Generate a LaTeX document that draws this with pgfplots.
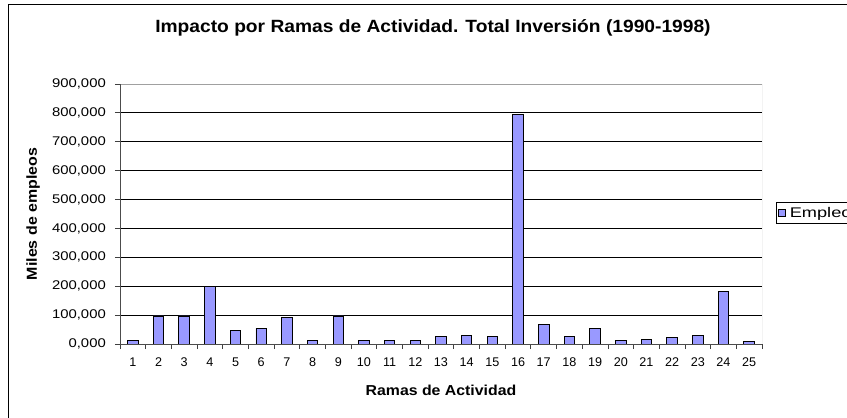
\documentclass[border=0pt]{standalone}
\usepackage{fontspec}
\setmainfont{Liberation Sans}
\newfontfamily\yfont{Liberation Sans}[FakeStretch=1.18]
\newfontfamily\titlefont{Liberation Sans}[FakeStretch=1.085]
\newfontfamily\labelfont{Liberation Sans}[FakeStretch=1.1]
\newfontfamily\legendfont{Liberation Sans}[FakeStretch=1.3]
\usepackage{pgfplots}
\pgfplotsset{compat=1.18}
\definecolor{barblue}{HTML}{9999FF}
\definecolor{axgray}{HTML}{A0A0A0}
\begin{document}
\begin{tikzpicture}[x=1pt,y=1pt]
\useasboundingbox (0,0) rectangle (847,418);
\draw[black, line width=1pt] (8,-20) rectangle (900,413);
\begin{axis}[
  at={(120pt,74pt)}, anchor=south west,
  scale only axis, width=642pt, height=260pt,
  xmin=0.5, xmax=25.5, ymin=0, ymax=900000,
  axis line style={draw=none},
  /pgf/number format/assume math mode=true,
  scaled y ticks=false,
  xtick pos=bottom, ytick pos=left,
  ytick={0,100000,200000,300000,400000,500000,600000,700000,800000,900000},
  yticklabels={{0,000},{100,000},{200,000},{300,000},{400,000},{500,000},{600,000},{700,000},{800,000},{900,000}},
  yticklabel style={font=\yfont\fontsize{12.6}{14}\selectfont, inner sep=0pt, xshift=-9pt},
  xtick={0.5,1.5,...,25.5},
  x tick label as interval,
  xticklabels={1,2,3,4,5,6,7,8,9,10,11,12,13,14,15,16,17,18,19,20,21,22,23,24,25},
  xticklabel style={font=\fontsize{12.6}{14}\selectfont, inner sep=0pt, yshift=-9pt},
  tick align=outside,
  major tick length=5pt,
  tick style={black!75, line width=0.8pt},
  ymajorgrids,
  major grid style={black, line width=0.8pt},
  xlabel={Ramas de Actividad},
  xlabel style={font=\labelfont\bfseries\fontsize{14.4}{16}\selectfont, at={(axis description cs:0.5,-0.2)}, anchor=base},
  ylabel={Miles de empleos},
  ylabel style={font=\labelfont\bfseries\fontsize{14.5}{16}\selectfont, at={(axis description cs:-0.1355,0.5)}, anchor=center},
  title={Impacto por Ramas de Actividad. Total Inversión (1990-1998)},
  title style={font=\titlefont\bfseries\fontsize{17.7}{20}\selectfont, at={(axis description cs:0.4875,1.1758)}, anchor=base},
  legend style={at={(axis description cs:1.0218,0.547)}, anchor=north west, draw=black, line width=0.8pt,
    font=\legendfont\fontsize{14}{16}\selectfont, inner xsep=2pt, inner ysep=3pt, cells={anchor=west},
    /tikz/every odd column/.append style={column sep=2pt}},
  legend image code/.code={\draw[fill=barblue,draw=black,line width=0.8pt] (0pt,-3.3pt) rectangle (6.6pt,3.3pt);},
]
\addplot[ybar, bar width=10.5pt, fill=barblue, draw=black, line width=0.9pt] coordinates {
(1,13000) (2,97000) (3,97000) (4,198000) (5,46000) (6,54000) (7,92000) (8,12000) (9,97000) (10,12000)
(11,12000) (12,12000) (13,25000) (14,29000) (15,25000) (16,795000) (17,68000) (18,25000) (19,54000) (20,13000)
(21,17000) (22,21000) (23,29000) (24,181000) (25,8000)
};
\addlegendentry{Empleo}
\draw[axgray, line width=0.8pt] (rel axis cs:0,1) -- (rel axis cs:1,1) -- (rel axis cs:1,0);
\draw[black!70, line width=0.8pt] (rel axis cs:0,1) -- (rel axis cs:0,0) -- (rel axis cs:1,0);
\end{axis}
\end{tikzpicture}
\end{document}
